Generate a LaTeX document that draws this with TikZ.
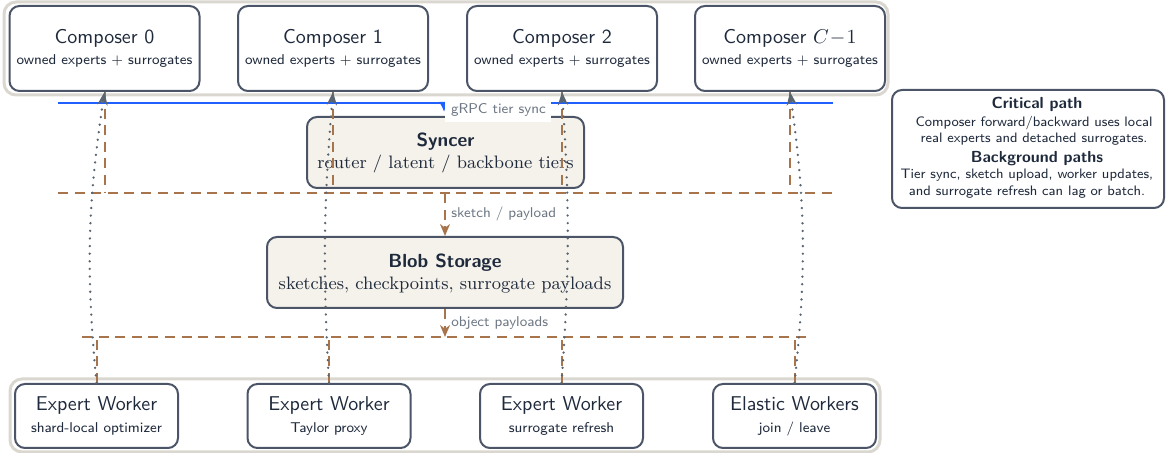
\documentclass[tikz,border=0pt]{standalone}
\usetikzlibrary{arrows.meta}
\definecolor{nodeborder}{HTML}{4B5567}
\definecolor{nodetext}{HTML}{1E293B}
\definecolor{beige}{HTML}{F5F2EB}
\definecolor{groupgray}{HTML}{DAD7D0}
\definecolor{bluec}{HTML}{2160FF}
\definecolor{brownc}{HTML}{A8744C}
\definecolor{dotgray}{HTML}{5A6570}
\definecolor{labelgray}{HTML}{6E7884}
\begin{document}
\begin{tikzpicture}[x=0.5pt,y=-0.5pt,
  grp/.style={draw=groupgray, line width=1.5pt, rounded corners=6pt},
  box/.style={draw=nodeborder, line width=1pt, rounded corners=5pt, fill=white, inner sep=0pt},
  compbox/.style={box, minimum width=95pt, minimum height=42.5pt},
  workbox/.style={box, minimum width=81.5pt, minimum height=32pt},
  corebox/.style={box, fill=beige, minimum height=35.5pt},
  ttl/.style={font=\sffamily\fontsize{10}{12}\selectfont, text=nodetext, anchor=base, inner sep=0pt},
  sub/.style={font=\sffamily\fontsize{7.1}{8.5}\selectfont, text=nodetext, anchor=base, inner sep=0pt},
  corettl/.style={font=\sffamily\bfseries\fontsize{9.5}{11}\selectfont, text=nodetext, anchor=base, inner sep=0pt},
  coresub/.style={font=\rmfamily\fontsize{9}{11}\selectfont, text=nodetext, anchor=base, inner sep=0pt},
  lbl/.style={font=\sffamily\fontsize{7.1}{8.5}\selectfont, text=labelgray, anchor=base west, inner sep=0pt},
  legtxt/.style={font=\sffamily\fontsize{6.85}{8.5}\selectfont, text=nodetext, anchor=base, inner sep=0pt},
  legttl/.style={font=\sffamily\bfseries\fontsize{8}{9}\selectfont, text=nodetext, anchor=base, inner sep=0pt},
  busline/.style={draw=brownc, line width=1pt, dash pattern=on 5pt off 3.3pt},
  busarrow/.style={busline, -{Stealth[length=6pt,width=5pt]}},
  syncline/.style={draw=bluec, line width=1.1pt},
  dotarrow/.style={draw=dotgray, line width=1.3pt, dash pattern=on 0.01pt off 3.8pt, line cap=round, -{Stealth[length=6.5pt,width=5pt]}}
]
\useasboundingbox (0,0) rectangle (1167,453);

% groups
\draw[grp] (4,2) rectangle (888,95);
\draw[grp] (10,379) rectangle (880,452);

% composers
\foreach \i/\x/\t in {0/104.5/{Composer 0}, 1/333/{Composer 1}, 2/562/{Composer 2}, 3/790/{Composer $C\!-\!1$}} {
  \node[compbox] (c\i) at (\x,48.5) {};
  \node[ttl] (c\i t) at (\x,43.5) {\t};
  \node[sub] (c\i s) at (\x,65) {owned experts + surrogates};
}

% workers
\foreach \i/\x/\t/\s in {0/96.5/{Expert Worker}/{shard-local optimizer}, 1/329/{Expert Worker}/{Taylor proxy}, 2/561.5/{Expert Worker}/{surrogate refresh}, 3/794.5/{Elastic Workers}/{join / leave}} {
  \node[workbox] (w\i) at (\x,416) {};
  \node[ttl] (w\i t) at (\x,410.5) {\t};
  \node[sub] (w\i s) at (\x,432.5) {\s};
}

% syncer and blob
\node[corebox, minimum width=138.5pt] (syncer) at (445.5,152.5) {};
\node[corettl] (syncert) at (445.5,147) {Syncer};
\node[coresub] (syncers) at (445.5,168.5) {router / latent / backbone tiers};
\node[corebox, minimum width=178pt] (blob) at (445,272.5) {};
\node[corettl] (blobt) at (445,268) {Blob Storage};
\node[coresub] (blobs) at (445,289.5) {sketches, checkpoints, surrogate payloads};

% legend
\node[box, minimum width=136pt, minimum height=59pt] (legend) at (1028,149) {};
\node[legttl] (lg1) at (1037,109) {Critical path};
\node[legtxt] (lg2) at (1034,126.5) {Composer forward/backward uses local};
\node[legtxt] (lg3) at (1034,143) {real experts and detached surrogates.};
\node[legttl] (lg4) at (1037,162.5) {Background paths};
\node[legtxt] (lg5) at (1027,179) {Tier sync, sketch upload, worker updates,};
\node[legtxt] (lg6) at (1027,195.5) {and surrogate refresh can lag or batch.};

% coordinates
\coordinate (sl) at (58,103);
\coordinate (sr) at (833,103);
\coordinate (sj) at (444,112);
\coordinate (bl) at (58,193);
\coordinate (br) at (833,193);
\coordinate (ll) at (82,337);
\coordinate (lr) at (808,337);
\coordinate (bj) at (445,193);
\coordinate (oj) at (445,337);

% blue tier sync
\draw[syncline, -{Latex[length=5pt,width=5pt]}] (sl) -| (sj);
\draw[syncline] (sr) -- (sj |- sr);

% brown buses
\draw[busline] (bl) -- (br);
\draw[busline] (ll) -- (lr);
\foreach \i in {0,1,2,3} {
  \draw[busline] (c\i.south) -- (c\i.south |- bl);
  \draw[busline] (w\i.north) -- (w\i.north |- ll);
}
\draw[busarrow] (bj) -- (blob.north);
\draw[busarrow] (blob.south) -- (oj);

% dotted worker -> composer
\draw[dotarrow] (w0.north) to[bend left=7] (c0.south);
\draw[dotarrow] (w1.north) to[bend left=4] (c1.south);
\draw[dotarrow] (w2.north) to[bend right=4] (c2.south);
\draw[dotarrow] (w3.north) to[bend right=7] (c3.south);

% labels
\node[lbl, fill=white, inner xsep=2.8pt, inner ysep=2.4pt] (grpc) at (445,114) {gRPC tier sync};
\node[lbl] (sketchlbl) at (451,218) {sketch / payload};
\node[lbl] (objlbl) at (451,326.7) {object payloads};
\end{tikzpicture}
\end{document}
